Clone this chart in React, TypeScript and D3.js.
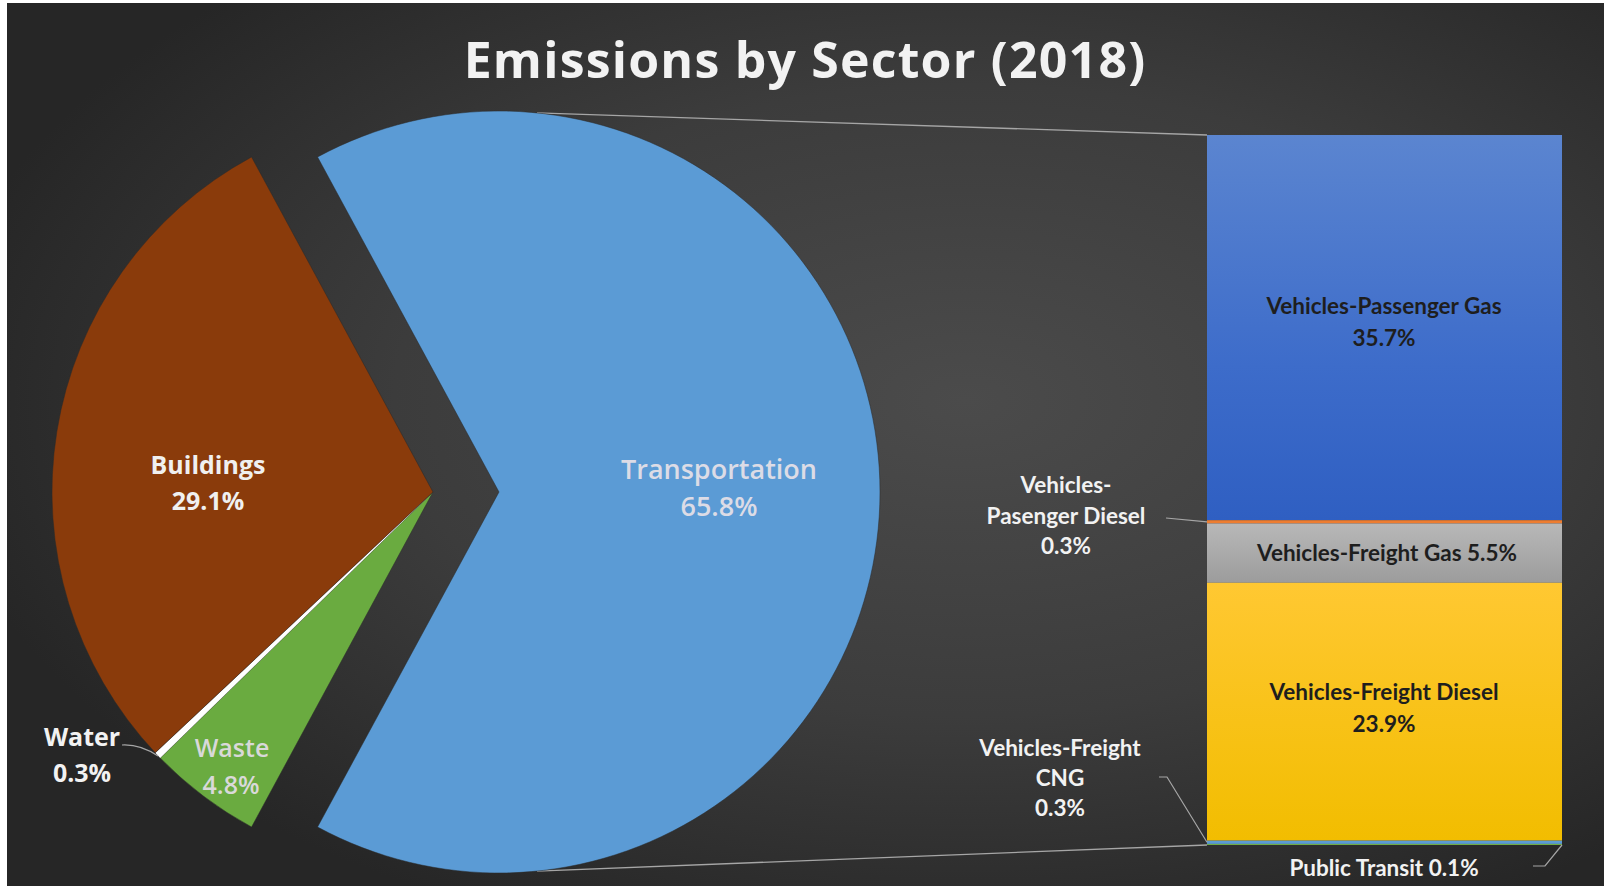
import * as d3 from "d3";

// pie: the sectors, clockwise from the exploded slice
const sectors = ["Transportation", "Waste", "Water", "Buildings"];
const sectorShares = [65.8, 4.8, 0.3, 29.1];
const sectorColors = ["#5b9bd5", "#6aab40", "#ffffff", "#8a3b0b"];

// bar: breakdown of Transportation, top to bottom
const modes = [
  "Vehicles-Passenger Gas",
  "Vehicles-Pasenger Diesel",
  "Vehicles-Freight Gas",
  "Vehicles-Freight Diesel",
  "Vehicles-Freight CNG",
  "Public Transit",
];
const modeShares = [35.7, 0.3, 5.5, 23.9, 0.3, 0.1];
const modeFills = ["url(#gBlue)", "#ed7d31", "url(#gGray)", "url(#gYellow)", "#5b9bd5", "#70ad47"];

const W = 1604;
const H = 886;
const cx = 433;
const cy = 492;
const R = 381;
const explode = 66;
const barX0 = 1207;
const barX1 = 1562;
const barTop = 135;
const barBottom = 845;

const pct = (v: number) => `${v.toFixed(1)}%`;

export default function App() {
  const total = d3.sum(sectorShares);
  const start = Math.PI / 2 - (Math.PI * sectorShares[0]) / total;
  const pie = d3
    .pie<number>()
    .sort(null)
    .value((d) => d)
    .startAngle(start)
    .endAngle(start + 2 * Math.PI);
  const arcs = pie(sectorShares);
  const arc = d3.arc<d3.PieArcDatum<number>>().innerRadius(0).outerRadius(R);

  const y = d3
    .scaleLinear()
    .domain([0, d3.sum(modeShares)])
    .range([barTop, barBottom]);
  const tops = [0, ...d3.cumsum(modeShares)];

  // connectors from the exploded slice to the bar
  const tx = cx + explode;
  const onArc = (a: number): [number, number] => [tx + R * Math.sin(a), cy - R * Math.cos(a)];
  const cTop = onArc(0.1);
  const cBot = onArc(Math.PI - 0.1);

  const label = {
    fontFamily: "'Open Sans', sans-serif",
    fontWeight: 600,
    fontSize: 25,
    textAnchor: "middle" as const,
  };
  const barLabel = {
    fontFamily: "Lato, sans-serif",
    fontWeight: 700,
    fontSize: 22.5,
    textAnchor: "middle" as const,
  };

  return (
    <svg width={W} height={H} style={{ position: "absolute", left: 0, top: 0 }}>
      <defs>
        <radialGradient id="bg" cx="60%" cy="45%" r="65%">
          <stop offset="0%" stopColor="#4b4b4b" />
          <stop offset="55%" stopColor="#3c3c3c" />
          <stop offset="100%" stopColor="#262626" />
        </radialGradient>
        <linearGradient id="gBlue" x1="0" y1="0" x2="0" y2="1">
          <stop offset="0%" stopColor="#5b85d0" />
          <stop offset="60%" stopColor="#3d6cca" />
          <stop offset="100%" stopColor="#2f5fc2" />
        </linearGradient>
        <linearGradient id="gGray" x1="0" y1="0" x2="0" y2="1">
          <stop offset="0%" stopColor="#b8b8b8" />
          <stop offset="100%" stopColor="#9c9c9c" />
        </linearGradient>
        <linearGradient id="gYellow" x1="0" y1="0" x2="0" y2="1">
          <stop offset="0%" stopColor="#ffc832" />
          <stop offset="100%" stopColor="#f2bd00" />
        </linearGradient>
      </defs>
      <rect width={W} height={H} fill="#ffffff" />
      <rect x={7} y={3} width={W - 7} height={H - 3} fill="url(#bg)" />

      <text
        x={805}
        y={78}
        fill="#f2f2f2"
        fontFamily="'Open Sans', sans-serif"
        fontWeight={700}
        fontSize={50}
        textAnchor="middle"
        letterSpacing={1.2}
      >
        Emissions by Sector (2018)
      </text>

      {/* connector lines */}
      <line x1={cTop[0]} y1={cTop[1]} x2={barX0} y2={barTop} stroke="#a6a6a6" strokeWidth={1.3} />
      <line x1={cBot[0]} y1={cBot[1]} x2={barX0} y2={barBottom} stroke="#a6a6a6" strokeWidth={1.3} />

      {/* pie */}
      {arcs.map((a, i) => (
        <path
          key={sectors[i]}
          d={arc(a) ?? ""}
          transform={`translate(${i === 0 ? tx : cx},${cy})`}
          fill={sectorColors[i]}
          stroke={i === 2 ? "none" : "#2a2a2a"}
          strokeOpacity={0.5}
          strokeWidth={1}
        />
      ))}

      <g style={label}>
        <text x={719} y={479} fill="#dcdce6" fontSize={27}>{sectors[0]}</text>
        <text x={719} y={516} fill="#dcdce6" fontSize={27}>{pct(sectorShares[0])}</text>
        <text x={208} y={474} fill="#f0f0f0" fontWeight={700}>{sectors[3]}</text>
        <text x={208} y={510} fill="#f0f0f0" fontWeight={700}>{pct(sectorShares[3])}</text>
        <text x={232} y={757} fill="#d9d9d9">{sectors[1]}</text>
        <text x={231} y={794} fill="#d9d9d9">{pct(sectorShares[1])}</text>
        <text x={82} y={746} fill="#f2f2f2" fontWeight={700}>{sectors[2]}</text>
        <text x={82} y={782} fill="#f2f2f2" fontWeight={700}>{pct(sectorShares[2])}</text>
      </g>
      <path d="M122,745 Q140,744 158,756" fill="none" stroke="#a6a6a6" strokeWidth={1.2} />

      {/* bar of pie */}
      {modeShares.map((v, i) => (
        <rect
          key={modes[i]}
          x={barX0}
          y={y(tops[i])}
          width={barX1 - barX0}
          height={Math.max(y(tops[i + 1]) - y(tops[i]), 0)}
          fill={modeFills[i]}
        />
      ))}

      <g style={barLabel} fill="#1e1e1e">
        <text x={1384} y={(y(tops[0]) + y(tops[1])) / 2 - 14}>{modes[0]}</text>
        <text x={1384} y={(y(tops[0]) + y(tops[1])) / 2 + 18}>{pct(modeShares[0])}</text>
        <text x={1387} y={(y(tops[2]) + y(tops[3])) / 2 + 8}>{`${modes[2]} ${pct(modeShares[2])}`}</text>
        <text x={1384} y={(y(tops[3]) + y(tops[4])) / 2 - 12}>{modes[3]}</text>
        <text x={1384} y={(y(tops[3]) + y(tops[4])) / 2 + 20}>{pct(modeShares[3])}</text>
      </g>

      <g style={barLabel} fill="#f2f2f2">
        <text x={1066} y={493}>Vehicles-</text>
        <text x={1066} y={524}>Pasenger Diesel</text>
        <text x={1066} y={554}>{pct(modeShares[1])}</text>
        <text x={1060} y={756}>Vehicles-Freight</text>
        <text x={1060} y={786}>CNG</text>
        <text x={1060} y={816}>{pct(modeShares[4])}</text>
        <text x={1384} y={876}>{`${modes[5]} ${pct(modeShares[5])}`}</text>
      </g>

      <polyline
        points={`1166,518 ${barX0},${(y(tops[1]) + y(tops[2])) / 2}`}
        fill="none"
        stroke="#a6a6a6"
        strokeWidth={1.2}
      />
      <polyline
        points={`1159,777 1167,777 ${barX0},${(y(tops[4]) + y(tops[5])) / 2}`}
        fill="none"
        stroke="#a6a6a6"
        strokeWidth={1.2}
      />
      <polyline
        points={`${barX1},${y(tops[6])} 1545,866 1533,866`}
        fill="none"
        stroke="#a6a6a6"
        strokeWidth={1.2}
      />
    </svg>
  );
}
